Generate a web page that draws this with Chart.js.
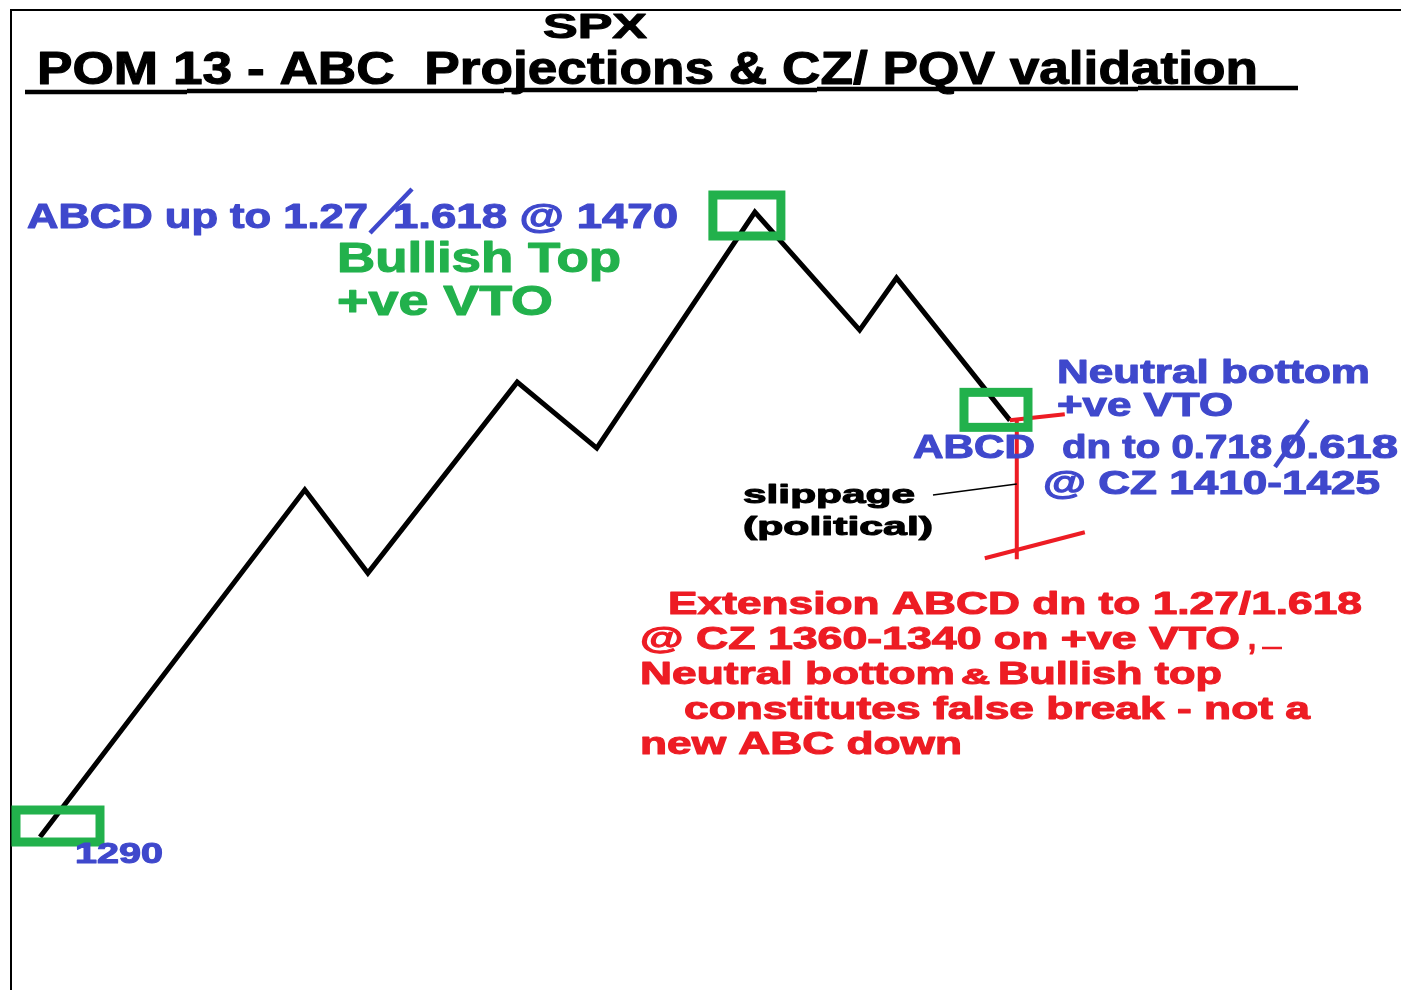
<!DOCTYPE html>
<html>
<head>
<meta charset="utf-8">
<script src="https://cdn.jsdelivr.net/npm/chart.js@4.4.1/dist/chart.umd.min.js"></script>
<style>
  html, body { margin: 0; padding: 0; background: #fff; }
  #wrap { width: 1401px; height: 990px; position: relative; }
</style>
</head>
<body>
<div id="wrap"><canvas id="swing"></canvas></div>
<script>
// swing path of SPX (x = bar count from the 1290 low, y = price)
const swingBars   = [0, 27.3, 33.8, 49.2, 57.4, 73.7, 84.5, 88.3, 100];
const swingPrices = [1290, 1390, 1366, 1421, 1402, 1470, 1436, 1451, 1410];

// which swing points get the green box
const boxedPoints = [0, 5, 8];
// projection bar drawn down from the last point (price range)
const projBar = 100.7;
const projPrices = [1410, 1370];

const BLUE = '#3f48cc', GREEN = '#22b14c', RED = '#ed1c24';

// text layout: [text, left, baseline, right, capHeight, colour]
const labels = [
  ['SPX', 543, 38, 647, 25, '#000'],
  ['POM 13 - ABC  Projections & CZ/ PQV validation', 37, 84, 1258, 33, '#000'],
  ['ABCD up to 1.27', 27, 228, 368, 25, BLUE],
  ['1.618 @ 1470', 393, 228, 678, 25, BLUE],
  ['Bullish Top', 337, 272, 621, 30, GREEN],
  ['+ve VTO', 337, 315, 553, 30, GREEN],
  ['Neutral bottom', 1057, 383, 1370, 24, BLUE],
  ['+ve VTO', 1057, 416, 1233, 24, BLUE],
  ['ABCD', 913, 458, 1035, 24, BLUE],
  ['dn to 0.718', 1062, 458, 1272, 24, BLUE],
  ['0.618', 1280, 458, 1398, 24, BLUE],
  ['@ CZ 1410-1425', 1043, 494, 1380, 24, BLUE],
  ['slippage', 743, 503, 915, 19, '#000'],
  ['(political)', 743, 535, 933, 19, '#000'],
  ['Extension ABCD dn to 1.27/1.618', 668, 614, 1362, 23, RED],
  ['@ CZ 1360-1340 on +ve VTO', 640, 649, 1240, 23, RED],
  [',', 1248, 649, 1256, 23, RED],
  ['Neutral bottom', 640, 684, 955, 23, RED],
  ['&', 961, 684, 990, 16, RED],
  ['Bullish top', 998, 684, 1222, 23, RED],
  ['constitutes false break - not a', 684, 719, 1310, 23, RED],
  ['new ABC down', 640, 754, 962, 23, RED],
  ['1290', 75, 863, 163, 21, BLUE]
];

// box offsets around each boxed point [left, top, right, bottom] in px
const boxOffsets = [[-24, -27, 60, 5], [-42, -17, 26, 24], [-46, -28, 18, 7]];

function drawFit(ctx, t) {
  let [text, left, base, right, cap, color] = t;
  let size = cap / 0.716;
  ctx.font = `bold ${size}px "Liberation Sans", Arial, sans-serif`;
  let w = ctx.measureText(text).width;
  ctx.save();
  ctx.translate(left, base);
  ctx.scale((right - left) / w, 1);
  ctx.fillStyle = color;
  ctx.strokeStyle = color;
  ctx.lineWidth = 1.1;
  ctx.lineJoin = 'round';
  ctx.textBaseline = 'alphabetic';
  ctx.fillText(text, 0, 0);
  ctx.strokeText(text, 0, 0);
  ctx.restore();
}

function seg(ctx, x1, y1, x2, y2, w, color) {
  ctx.beginPath();
  ctx.moveTo(x1, y1);
  ctx.lineTo(x2, y2);
  ctx.lineWidth = w;
  ctx.strokeStyle = color;
  ctx.lineCap = 'butt';
  ctx.stroke();
}

const notes = {
  id: 'notes',
  beforeDraw(chart) {
    const ctx = chart.ctx;
    ctx.save();
    ctx.fillStyle = '#fff';
    ctx.fillRect(0, 0, chart.width, chart.height);
    // frame
    seg(ctx, 10, 10, 1401, 10, 2, '#000');
    seg(ctx, 11, 10, 11, 990, 2, '#000');
    // title underline, slightly stepped
    const steps = [[25, 187, 92], [187, 504, 91], [504, 817, 90], [817, 1138, 89], [1138, 1298, 88]];
    steps.forEach(s => seg(ctx, s[0], s[2], s[1], s[2], 4.5, '#000'));
    ctx.restore();
  },
  afterDatasetsDraw(chart) {
    const ctx = chart.ctx;
    const xs = chart.scales.x, ys = chart.scales.y;
    ctx.save();
    // red projection bar
    let px = xs.getPixelForValue(projBar);
    let pTop = ys.getPixelForValue(projPrices[0]);
    let pBot = ys.getPixelForValue(projPrices[1]);
    seg(ctx, px, pTop, px, pBot, 4, RED);
    seg(ctx, px - 7, pTop, px + 48, pTop - 6, 4, RED);
    seg(ctx, px - 32, pBot - 1, px + 68, pBot - 27, 4, RED);
    // slippage leader
    seg(ctx, 933, 495, px, 484, 1.5, '#000');
    // green boxes
    boxedPoints.forEach((i, k) => {
      let x = xs.getPixelForValue(swingBars[i]);
      let y = ys.getPixelForValue(swingPrices[i]);
      let o = boxOffsets[k];
      ctx.lineWidth = 9;
      ctx.strokeStyle = GREEN;
      ctx.strokeRect(x + o[0], y + o[1], o[2] - o[0], o[3] - o[1]);
    });
    // texts
    labels.forEach(t => drawFit(ctx, t));
    // hand-drawn slashes and dash
    seg(ctx, 370, 233, 412, 189, 4.5, BLUE);
    seg(ctx, 1275, 467, 1308, 420, 4.5, BLUE);
    seg(ctx, 1262, 648, 1282, 648, 2.5, RED);
    ctx.restore();
  }
};

new Chart(document.getElementById('swing'), {
  type: 'line',
  data: {
    datasets: [{
      data: swingBars.map((b, i) => ({x: b, y: swingPrices[i]})),
      borderColor: '#000',
      borderWidth: 5,
      pointRadius: 0,
      tension: 0,
      borderJoinStyle: 'miter',
      fill: false
    }]
  },
  plugins: [notes],
  options: {
    responsive: true,
    maintainAspectRatio: false,
    animation: false,
    layout: { padding: 0 },
    plugins: { legend: { display: false }, tooltip: { enabled: false } },
    scales: {
      x: { type: 'linear', display: false, min: -4.124, max: 140.31 },
      y: { display: false, min: 1245.94, max: 1531.06 }
    },
    events: []
  }
});
</script>
</body>
</html>
